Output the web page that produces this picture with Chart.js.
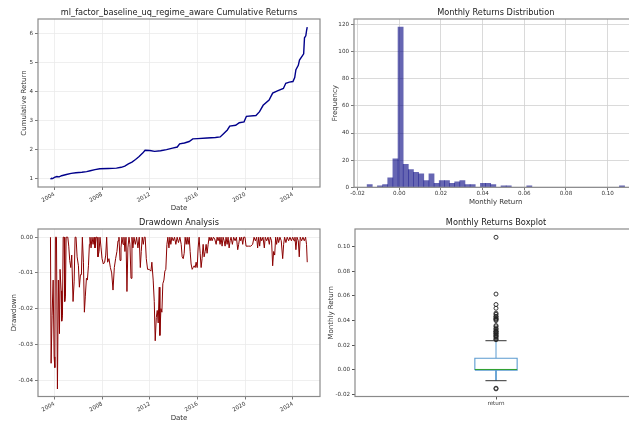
<!DOCTYPE html>
<html><head><meta charset="utf-8">
<script src="https://cdn.jsdelivr.net/npm/chart.js@4.4.1/dist/chart.umd.min.js"></script>
<style>
html,body{margin:0;padding:0;width:629px;height:423px;overflow:hidden;background:#fff}
canvas{position:absolute;left:0;top:0}
</style></head><body>
<canvas id="cCum" width="660" height="423"></canvas>
<canvas id="cHist" width="660" height="423"></canvas>
<canvas id="cDd" width="660" height="423"></canvas>
<canvas id="cBox" width="660" height="423"></canvas>
<script>
// ---------- data ----------
const strategyName = 'ml_factor_baseline_uq_regime_aware';
const yearTicks = [2004, 2008, 2012, 2016, 2020, 2024];

const cumYears = [2003.67,2003.75,2003.85,2004.0,2004.2,2004.4,2004.6,2005.0,2005.4,2005.8,2006.3,2006.7,2007.0,2007.4,2007.8,2008.5,2009.2,2009.6,2009.9,2010.2,2010.5,2010.8,2011.1,2011.4,2011.6,2012.0,2012.4,2012.9,2013.4,2013.9,2014.3,2014.5,2014.9,2015.3,2015.6,2016.0,2016.8,2017.5,2017.9,2018.2,2018.5,2018.7,2019.2,2019.5,2019.9,2020.1,2020.9,2021.2,2021.5,2022.0,2022.3,2022.7,2023.2,2023.4,2023.7,2024.0,2024.15,2024.25,2024.45,2024.55,2024.9,2024.97,2025.08,2025.15,2025.2];
const cumValues = [0.97,1.00,0.99,1.03,1.06,1.05,1.09,1.13,1.17,1.19,1.21,1.23,1.26,1.30,1.33,1.34,1.35,1.38,1.42,1.50,1.56,1.65,1.75,1.87,1.97,1.96,1.93,1.95,1.99,2.04,2.08,2.19,2.22,2.27,2.36,2.37,2.39,2.41,2.43,2.55,2.67,2.80,2.83,2.92,2.95,3.14,3.17,3.30,3.52,3.70,3.94,4.02,4.10,4.28,4.32,4.34,4.48,4.75,4.90,5.08,5.30,5.85,5.92,6.12,6.22];

const ddYears = [2003.665,2003.72,2003.80,2003.89,2003.97,2004.03,2004.08,2004.17,2004.25,2004.33,2004.42,2004.47,2004.56,2004.61,2004.67,2004.73,2004.81,2004.86,2004.92,2004.98,2005.12,2005.20,2005.28,2005.37,2005.45,2005.56,2005.65,2005.73,2005.81,2005.90,2006.01,2006.09,2006.18,2006.26,2006.34,2006.43,2006.51,2006.59,2006.68,2006.76,2006.85,2006.93,2006.98,2007.07,2007.15,2007.24,2007.32,2007.40,2007.49,2007.57,2007.65,2007.74,2007.82,2007.91,2007.99,2008.10,2008.21,2008.30,2008.38,2008.46,2008.57,2008.69,2008.80,2008.91,2009.02,2009.13,2009.24,2009.33,2009.41,2009.50,2009.58,2009.66,2009.75,2009.83,2009.91,2010.00,2010.08,2010.16,2010.25,2010.33,2010.42,2010.50,2010.58,2010.67,2010.78,2010.89,2011.00,2011.11,2011.20,2011.28,2011.36,2011.45,2011.53,2011.61,2011.70,2011.81,2011.95,2012.09,2012.17,2012.28,2012.37,2012.45,2012.54,2012.62,2012.70,2012.79,2012.84,2012.93,2013.01,2013.09,2013.18,2013.26,2013.34,2013.43,2013.51,2013.60,2013.68,2013.76,2013.85,2013.96,2014.07,2014.18,2014.29,2014.40,2014.52,2014.63,2014.71,2014.80,2014.88,2014.96,2015.05,2015.13,2015.21,2015.30,2015.38,2015.46,2015.55,2015.63,2015.72,2015.80,2015.88,2015.97,2016.05,2016.13,2016.22,2016.30,2016.38,2016.47,2016.55,2016.64,2016.72,2016.80,2016.89,2016.97,2017.05,2017.14,2017.22,2017.33,2017.44,2017.56,2017.64,2017.72,2017.81,2017.89,2017.97,2018.06,2018.14,2018.23,2018.31,2018.39,2018.48,2018.56,2018.65,2018.73,2018.81,2018.92,2019.03,2019.15,2019.26,2019.37,2019.45,2019.54,2019.62,2019.70,2019.79,2019.87,2019.98,2020.07,2020.26,2020.46,2020.62,2020.74,2020.85,2020.96,2021.04,2021.13,2021.21,2021.29,2021.38,2021.49,2021.60,2021.68,2021.80,2021.91,2022.02,2022.10,2022.21,2022.30,2022.38,2022.47,2022.55,2022.63,2022.72,2022.80,2022.91,2023.02,2023.14,2023.22,2023.30,2023.41,2023.52,2023.64,2023.75,2023.87,2023.98,2024.09,2024.17,2024.25,2024.34,2024.45,2024.53,2024.61,2024.73,2024.84,2024.95,2025.06,2025.14,2025.20];
const ddValues = [0,-0.0353,-0.022,-0.012,-0.0335,-0.0365,0,0,-0.0425,-0.012,-0.027,-0.009,-0.015,-0.0235,-0.022,0,0,-0.018,-0.0165,0,0,-0.0025,-0.0065,-0.0085,-0.005,-0.018,-0.0125,0,0,-0.0055,-0.008,-0.014,-0.0105,-0.0105,0,-0.007,-0.021,-0.0165,-0.0115,-0.012,-0.008,-0.002,0,-0.003,0,-0.002,0,-0.003,0,0,-0.0055,-0.004,0,-0.003,-0.006,-0.0075,-0.007,-0.005,0,-0.007,-0.006,-0.0085,-0.010,-0.0148,-0.0085,-0.006,-0.004,-0.001,0,-0.0065,-0.003,0,-0.002,0,-0.004,0,-0.0152,-0.003,0,-0.002,-0.0115,0,-0.003,0,-0.002,0,-0.003,0,-0.0085,-0.004,0,-0.002,0,0,-0.006,-0.009,-0.009,-0.0095,-0.007,-0.012,-0.018,-0.029,-0.0225,-0.0205,-0.024,-0.014,-0.0275,-0.020,-0.021,-0.013,-0.012,-0.0095,-0.009,-0.002,0,-0.003,0,-0.002,0,-0.001,0,-0.002,0,-0.0015,0,-0.002,-0.0055,-0.006,-0.0045,0,-0.002,0,-0.002,0,-0.004,-0.0075,-0.009,-0.0085,-0.008,-0.0085,-0.007,-0.0085,-0.003,0,-0.0045,-0.0085,-0.006,-0.002,-0.0055,-0.004,-0.002,-0.0045,-0.002,0,-0.001,0,-0.001,0,-0.0005,-0.002,0,-0.001,0,-0.002,0,-0.0025,0,-0.001,-0.0025,0,-0.002,0,-0.003,-0.001,0,-0.002,0,-0.001,0,-0.0035,-0.002,0,-0.001,0,-0.002,0,0,-0.0025,-0.0025,-0.0025,-0.002,0,-0.001,0,-0.003,0,-0.0025,0,-0.001,0,-0.003,0,-0.001,0,-0.002,0,-0.001,-0.008,-0.004,-0.005,0,-0.002,0,-0.0015,0,-0.001,-0.006,-0.002,0,-0.0015,0,-0.001,0,-0.001,0,-0.001,0,-0.0035,0,-0.001,-0.0055,0,-0.001,0,-0.001,0,-0.002,-0.007];

const histMin = -0.0154, histMax = 0.1081;
const histCounts = [2,0,1,2,7,21,118,17,13,11,10,5,10,3,5,5,3,4,5,2,2,0,3,3,2,0,1,1,0,0,0,1,0,0,0,0,0,0,0,0,0,0,0,0,0,0,0,0,0,1];
const histTicks = [-0.02,0,0.02,0.04,0.06,0.08,0.10];
const freqTicks = [0,20,40,60,80,100,120];

const boxLabels = ['return'];
const boxWhiskerLow = [-0.0087];
const boxQ1 = [-0.0001];
const boxMedian = [0.0004];
const boxQ3 = [0.0095];
const boxWhiskerHigh = [0.0237];
const boxOutliers = [-0.0148,-0.0153,0.0245,0.025,0.026,0.027,0.0275,0.028,0.029,0.0295,0.030,0.031,0.0312,0.0315,0.033,0.0335,0.035,0.036,0.040,0.041,0.0412,0.042,0.043,0.0435,0.045,0.046,0.050,0.053,0.0615,0.1075];
const boxTicks = [-0.02,0,0.02,0.04,0.06,0.08,0.10];
const cumTicks = [1,2,3,4,5,6];
const ddTicks = [0,-0.01,-0.02,-0.03,-0.04];

// ---------- style ----------
const FONT = 'DejaVu Sans';
const TICK_FONT = {family: FONT, size: 5.6};
const LABEL_FONT = {family: FONT, size: 7};
const TITLE_SIZE = 8.2;
Chart.defaults.color = '#333';

const frame = {
  id: 'frame',
  afterDatasetsDraw(chart) {
    const a = chart.chartArea, ctx = chart.ctx;
    ctx.save();
    ctx.strokeStyle = '#8a8a8a';
    ctx.lineWidth = 1.2;
    ctx.strokeRect(a.left, a.top, a.right - a.left, a.bottom - a.top);
    ctx.restore();
  }
};
const ptitle = {
  id: 'ptitle',
  afterDraw(chart, args, opts) {
    const a = chart.chartArea, ctx = chart.ctx;
    ctx.save();
    ctx.font = TITLE_SIZE + 'px "' + FONT + '"';
    ctx.fillStyle = '#222';
    ctx.textAlign = 'center';
    ctx.textBaseline = 'middle';
    ctx.fillText(opts.text, (a.left + a.right) / 2, a.top - 6.5);
    ctx.restore();
  }
};

function fixTicks(values) {
  return function(scale) { scale.ticks = values.map(v => ({value: v})); };
}
function fitW(w) { return function(s) { s.width = w; }; }
function fitH(h) { return function(s) { s.height = h; }; }

function xScale(opts) {
  return Object.assign({
    type: 'linear',
    grid: {color: '#ebebeb', lineWidth: 0.8, tickLength: 3, tickColor: '#555'},
    border: {display: false},
    ticks: {font: TICK_FONT, padding: 1, autoSkip: false, color: '#333'}
  }, opts);
}

function baseOptions(padding, scales, titleText) {
  return {
    responsive: false, animation: false, events: [],
    layout: {padding: padding},
    plugins: {legend: {display: false}, tooltip: {enabled: false}, ptitle: {text: titleText}},
    scales: scales
  };
}

// ---------- cumulative returns ----------
new Chart(document.getElementById('cCum'), {
  type: 'scatter',
  data: {datasets: [{
    data: cumYears.map((y, i) => ({x: y, y: cumValues[i]})),
    showLine: true, borderColor: '#00008b', borderWidth: 1.4, pointRadius: 0, tension: 0
  }]},
  options: baseOptions({left: 19.8, top: 19, right: 340, bottom: 210.8}, {
    x: xScale({
      min: 2002.62, max: 2026.27,
      afterBuildTicks: fixTicks(yearTicks), afterFit: fitH(25.2),
      ticks: {font: TICK_FONT, padding: 1, autoSkip: false, minRotation: 30, maxRotation: 30, callback: v => String(v)},
      title: {display: true, text: 'Date', font: LABEL_FONT, padding: 0, color: '#333'}
    }),
    y: xScale({
      min: 0.70, max: 6.50,
      afterBuildTicks: fixTicks(cumTicks), afterFit: fitW(18.2),
      ticks: {font: TICK_FONT, padding: 2, callback: v => String(v)},
      title: {display: true, text: 'Cumulative Return', font: LABEL_FONT, padding: 0, color: '#333'}
    })
  }, strategyName + ' Cumulative Returns'),
  plugins: [frame, ptitle]
});

// ---------- histogram ----------
const binW = (histMax - histMin) / histCounts.length;
new Chart(document.getElementById('cHist'), {
  type: 'bar',
  data: {datasets: [{
    data: histCounts.map((c, i) => ({x: histMin + binW * (i + 0.5), y: c})),
    backgroundColor: 'rgba(0,0,128,0.6)', borderWidth: 0,
    barPercentage: 1, categoryPercentage: 1, grouped: false
  }]},
  options: baseOptions({left: 330.8, top: 19, right: 22.5, bottom: 217.1}, {
    x: xScale({
      min: -0.0217, max: 0.1143, offset: false,
      grid: {color: '#d0d0d0', lineWidth: 0.8, tickLength: 3, tickColor: '#555', offset: false},
      afterBuildTicks: fixTicks(histTicks), afterFit: fitH(18.6),
      ticks: {font: TICK_FONT, padding: 0, autoSkip: false, maxRotation: 0, callback: v => v.toFixed(2)},
      title: {display: true, text: 'Monthly Return', font: LABEL_FONT, padding: 0, color: '#333'}
    }),
    y: xScale({
      min: 0, max: 124.0,
      grid: {color: '#d0d0d0', lineWidth: 0.8, tickLength: 3, tickColor: '#555'},
      afterBuildTicks: fixTicks(freqTicks), afterFit: fitW(23.2),
      ticks: {font: TICK_FONT, padding: 2, callback: v => String(v)},
      title: {display: true, text: 'Frequency', font: LABEL_FONT, padding: 0, color: '#333'}
    })
  }, 'Monthly Returns Distribution'),
  plugins: [frame, ptitle]
});

// ---------- drawdown ----------
new Chart(document.getElementById('cDd'), {
  type: 'scatter',
  data: {datasets: [{
    data: ddYears.map((y, i) => ({x: y, y: ddValues[i]})),
    showLine: true, borderColor: '#8b0000', borderWidth: 1, pointRadius: 0, tension: 0
  }]},
  options: baseOptions({left: 9.8, top: 229, right: 340, bottom: 0.5}, {
    x: xScale({
      min: 2002.62, max: 2026.27,
      afterBuildTicks: fixTicks(yearTicks), afterFit: fitH(26),
      ticks: {font: TICK_FONT, padding: 1, autoSkip: false, minRotation: 30, maxRotation: 30, callback: v => String(v)},
      title: {display: true, text: 'Date', font: LABEL_FONT, padding: 0, color: '#333'}
    }),
    y: xScale({
      min: -0.0446, max: 0.0023,
      afterBuildTicks: fixTicks(ddTicks), afterFit: fitW(28.2),
      ticks: {font: TICK_FONT, padding: 2, callback: v => v.toFixed(2)},
      title: {display: true, text: 'Drawdown', font: LABEL_FONT, padding: 0, color: '#333'}
    })
  }, 'Drawdown Analysis'),
  plugins: [frame, ptitle]
});

// ---------- boxplot ----------
const BOX_POS = 1, BOX_W = 0.15, CAP_W = 0.075;
function seg(x1, y1, x2, y2, color, order) {
  return {data: [{x: x1, y: y1}, {x: x2, y: y2}], showLine: true, borderColor: color,
          borderWidth: 1, pointRadius: 0, tension: 0, order: order};
}
const bl = BOX_POS - BOX_W / 2, br = BOX_POS + BOX_W / 2;
const boxDatasets = [
  {data: [{x: bl, y: boxQ1[0]}, {x: br, y: boxQ1[0]}, {x: br, y: boxQ3[0]}, {x: bl, y: boxQ3[0]}, {x: bl, y: boxQ1[0]}],
   showLine: true, borderColor: '#5b9bd0', borderWidth: 1.1, pointRadius: 0, tension: 0, order: 3},
  seg(BOX_POS, boxQ1[0], BOX_POS, boxWhiskerLow[0], '#5b9bd0', 3),
  seg(BOX_POS, boxQ3[0], BOX_POS, boxWhiskerHigh[0], '#5b9bd0', 3),
  seg(BOX_POS - CAP_W / 2, boxWhiskerLow[0], BOX_POS + CAP_W / 2, boxWhiskerLow[0], '#333', 2),
  seg(BOX_POS - CAP_W / 2, boxWhiskerHigh[0], BOX_POS + CAP_W / 2, boxWhiskerHigh[0], '#333', 2),
  seg(bl, boxMedian[0], br, boxMedian[0], '#2ca02c', 0),
  {data: boxOutliers.map(v => ({x: BOX_POS, y: v})), showLine: false, pointRadius: 2,
   pointBorderColor: '#222', pointBackgroundColor: 'rgba(0,0,0,0)', pointBorderWidth: 0.9, order: 1}
];
new Chart(document.getElementById('cBox'), {
  type: 'scatter',
  data: {datasets: boxDatasets},
  options: baseOptions({left: 326.5, top: 229, right: 23, bottom: 0}, {
    x: xScale({
      min: 0.5, max: 1.5,
      grid: {drawOnChartArea: false, tickLength: 3, tickColor: '#555'},
      afterBuildTicks: fixTicks([BOX_POS]), afterFit: fitH(26.5),
      ticks: {font: TICK_FONT, padding: 1, autoSkip: false, maxRotation: 0, callback: () => boxLabels[0]}
    }),
    y: xScale({
      min: -0.0215, max: 0.1142,
      grid: {drawOnChartArea: false, tickLength: 3, tickColor: '#555'},
      afterBuildTicks: fixTicks(boxTicks), afterFit: fitW(28.5),
      ticks: {font: TICK_FONT, padding: 2, callback: v => v.toFixed(2)},
      title: {display: true, text: 'Monthly Return', font: LABEL_FONT, padding: 0, color: '#333'}
    })
  }, 'Monthly Returns Boxplot'),
  plugins: [frame, ptitle]
});
</script>
</body></html>
